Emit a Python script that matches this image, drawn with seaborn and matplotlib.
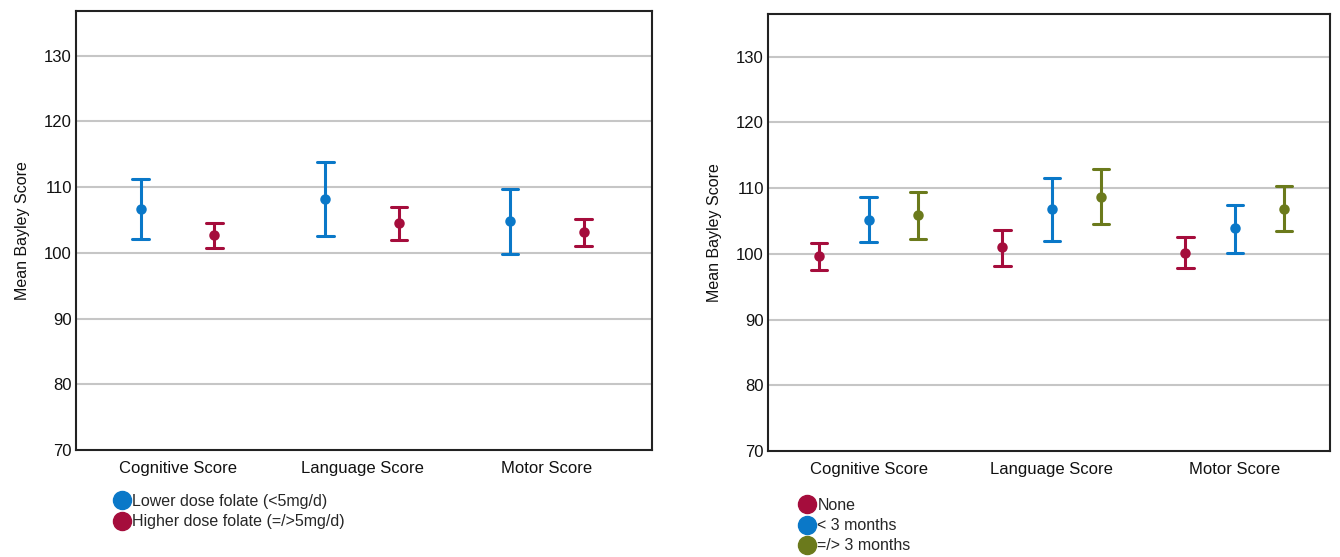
import matplotlib
matplotlib.use("Agg")
import matplotlib.pyplot as plt
import seaborn as sns
import pandas as pd
import numpy as np
from matplotlib.lines import Line2D

sns.set_theme(style="white")
plt.rcParams['font.family'] = ['Liberation Sans', 'DejaVu Sans']

categories = ["Cognitive Score", "Language Score", "Motor Score"]

# Left panel: folate dose
dose_groups = ["Lower dose folate (<5mg/d)", "Higher dose folate (=/>5mg/d)"]
dose_mean = {"Lower dose folate (<5mg/d)": [106.7, 108.2, 104.8],
             "Higher dose folate (=/>5mg/d)": [102.7, 104.6, 103.1]}
dose_lo = {"Lower dose folate (<5mg/d)": [102.1, 102.6, 99.9],
           "Higher dose folate (=/>5mg/d)": [100.8, 102.0, 101.1]}
dose_hi = {"Lower dose folate (<5mg/d)": [111.2, 113.8, 109.7],
           "Higher dose folate (=/>5mg/d)": [104.5, 107.0, 105.1]}

# Right panel: duration
dur_groups = ["None", "< 3 months", "=/> 3 months"]
dur_mean = {"None": [99.7, 101.0, 100.1],
            "< 3 months": [105.2, 106.8, 103.9],
            "=/> 3 months": [105.9, 108.7, 106.9]}
dur_lo = {"None": [97.6, 98.1, 97.9],
          "< 3 months": [101.8, 101.9, 100.2],
          "=/> 3 months": [102.3, 104.6, 103.5]}
dur_hi = {"None": [101.7, 103.7, 102.5],
          "< 3 months": [108.7, 111.6, 107.4],
          "=/> 3 months": [109.4, 112.9, 110.3]}

yticks = [70, 80, 90, 100, 110, 120, 130]

BLUE = "#0a78c8"
RED = "#a50d3c"
OLIVE = "#6b7a1c"


def long_df(groups, mean, lo, hi):
    rows = []
    for g in groups:
        for i, c in enumerate(categories):
            for v in (lo[g][i], mean[g][i], hi[g][i]):
                rows.append({"cat": c, "grp": g, "val": v})
    return pd.DataFrame(rows)


def style_ax(ax, xlim, ylim):
    ax.set_xlim(*xlim)
    ax.set_ylim(*ylim)
    ax.set_yticks(yticks)
    for y in yticks[1:]:
        ax.axhline(y, color="#c6c6c6", lw=1.5, zorder=0)
    for s in ax.spines.values():
        s.set_visible(True)
        s.set_color("#222222")
        s.set_linewidth(1.5)
    ax.tick_params(axis="both", length=0, labelsize=12, colors="#111111", pad=3)
    ax.tick_params(axis="x", pad=8)
    ax.set_xlabel("")
    ax.set_ylabel("Mean Bayley Score", fontsize=11.5, color="#111111", labelpad=10)
    if ax.get_legend() is not None:
        ax.get_legend().remove()


fig = plt.figure(figsize=(13.4, 5.57), dpi=100)
W, H = 1340, 557
ax1 = fig.add_axes([76 / W, (H - 450) / H, 576 / W, 439 / H])
ax2 = fig.add_axes([768 / W, (H - 451) / H, 562 / W, 437 / H])

df1 = long_df(dose_groups, dose_mean, dose_lo, dose_hi)
sns.pointplot(data=df1, x="cat", y="val", hue="grp", order=categories,
              hue_order=dose_groups, palette=[BLUE, RED],
              estimator=np.median, errorbar=lambda v: (np.min(v), np.max(v)),
              dodge=0.4, linestyle="none", markers="o", markersize=5.5,
              capsize=0.09, err_kws={"linewidth": 2.2}, ax=ax1)
style_ax(ax1, (-0.55, 2.57), (70, 136.8))

df2 = long_df(dur_groups, dur_mean, dur_lo, dur_hi)
sns.pointplot(data=df2, x="cat", y="val", hue="grp", order=categories,
              hue_order=dur_groups, palette=[RED, BLUE, OLIVE],
              estimator=np.median, errorbar=lambda v: (np.min(v), np.max(v)),
              dodge=0.54, linestyle="none", markers="o", markersize=5.5,
              capsize=0.09, err_kws={"linewidth": 2.2}, ax=ax2)
style_ax(ax2, (-0.55, 2.52), (70, 136.5))


def add_legend(labels, colors, x, y):
    handles = [Line2D([], [], marker="o", linestyle="none", markersize=13,
                      markerfacecolor=c, markeredgecolor=c) for c in colors]
    fig.legend(handles, labels, loc="upper left", bbox_to_anchor=(x / W, 1 - y / H),
               frameon=False, fontsize=11.5, handletextpad=0.15,
               labelspacing=0.32, borderaxespad=0, handlelength=1.0,
               borderpad=0)


add_legend(dose_groups, [BLUE, RED], 114, 494)
add_legend(dur_groups, [RED, BLUE, OLIVE], 799, 498)

fig.savefig("out.png", dpi=100)
